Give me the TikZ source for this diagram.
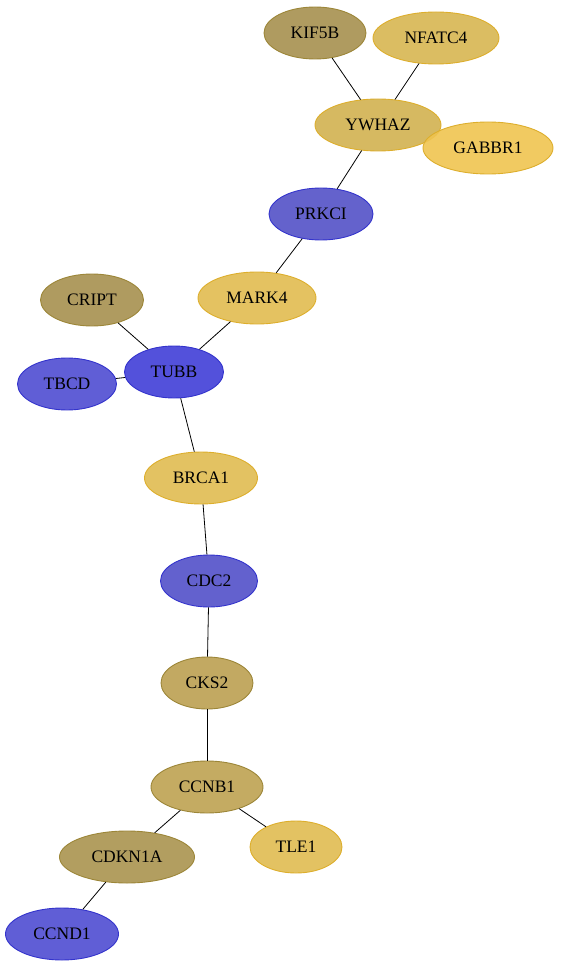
\documentclass[tikz,border=0pt]{standalone}
\usepackage{fontspec}
\setmainfont{Liberation Serif}
\usepackage{xcolor}
\usepackage{tikz}
\usetikzlibrary{shapes.geometric}
\definecolor{khaki}{HTML}{AC975A}
\definecolor{khakiL}{HTML}{C2A85C}
\definecolor{khakiD}{HTML}{9C8638}
\definecolor{gold}{HTML}{E2C05C}
\definecolor{goldY}{HTML}{EFC450}
\definecolor{goldD}{HTML}{DDAE2C}
\definecolor{violet}{HTML}{5957D4}
\definecolor{violetD}{HTML}{3434CC}
\tikzset{
  gene/.style={ellipse,draw,inner sep=0pt,minimum height=52pt,
               font=\fontsize{17.5}{20}\selectfont,fill opacity=0.96,
               text opacity=1,line width=0.9pt},
  knode/.style={gene,fill=khaki,draw=khakiD},
  lnode/.style={gene,fill=khakiL,draw=khakiD},
  ynode/.style={gene,fill=gold,draw=goldD},
  bnode/.style={gene,fill=violet,draw=violetD},
  link/.style={black,line width=0.8pt},
}
\begin{document}
\begin{tikzpicture}[x=1pt,y=-1pt]
\useasboundingbox (0,0) rectangle (560,968);
% top cluster
\node[knode,minimum width=102pt] (kif) at (315,33) {KIF5B};
\node[ynode,fill=gold!85!khaki,minimum width=126pt] (nfat) at (436,38) {NFATC4};
\node[ynode,fill=gold!75!khaki,minimum width=126pt] (ywhaz) at (378,125) {YWHAZ};
\node[ynode,fill=goldY,fill opacity=0.9,minimum width=130pt] (gab) at (488,148) {GABBR1};
\node[bnode,fill=violet!88!gray,minimum width=104pt] (prkci) at (321,214) {PRKCI};
% middle
\node[ynode,fill=gold!95!goldY,minimum width=118pt] (mark) at (257,298) {MARK4};
\node[knode,minimum width=103pt] (cript) at (92,300) {CRIPT};
\node[bnode,fill=violet!85!blue,minimum width=99pt] (tubb) at (174,372) {TUBB};
\node[bnode,minimum width=99pt] (tbcd) at (67,384) {TBCD};
\node[ynode,minimum width=113pt] (brca) at (201,478) {BRCA1};
\node[bnode,fill=violet!90!gray,minimum width=97pt] (cdc) at (209,581) {CDC2};
\node[lnode,fill=khakiL!90!khaki,minimum width=92pt] (cks) at (207,683) {CKS2};
% bottom
\node[lnode,minimum width=112pt] (ccnb) at (207,787) {CCNB1};
\node[ynode,minimum width=92pt] (tle) at (296,847) {TLE1};
\node[knode,fill=khaki!85!khakiL,minimum width=135pt] (cdkn) at (127,857) {CDKN1A};
\node[bnode,minimum width=113pt] (ccnd) at (62,934) {CCND1};
% edges
\draw[link] (kif) -- (ywhaz);
\draw[link] (nfat) -- (ywhaz);
\draw[link] (ywhaz) -- (prkci);
\draw[link] (prkci) -- (mark);
\draw[link] (mark) -- (tubb);
\draw[link] (cript) -- (tubb);
\draw[link] (tbcd) -- (tubb);
\draw[link] (tubb) -- (brca);
\draw[link] (brca) -- (cdc);
\draw[link] (cdc) -- (cks);
\draw[link] (cks) -- (ccnb);
\draw[link] (ccnb) -- (tle);
\draw[link] (ccnb) -- (cdkn);
\draw[link] (cdkn) -- (ccnd);
\end{tikzpicture}
\end{document}
